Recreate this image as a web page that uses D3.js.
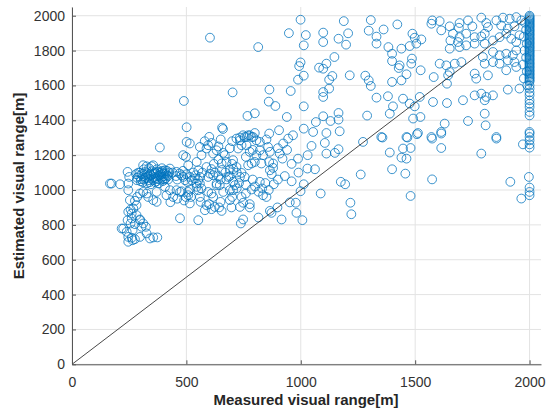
<!DOCTYPE html>
<html><head><meta charset="utf-8">
<script src="https://cdn.jsdelivr.net/npm/d3@7"></script>
<style>body{margin:0;background:#fff}svg{display:block}</style>
</head><body><svg id="c" width="551" height="412"></svg>
<script>
const xTicks=[0,500,1000,1500,2000];
const yTicks=[0,200,400,600,800,1000,1200,1400,1600,1800,2000];
const xLabel="Measured visual range[m]";
const yLabel="Estimated visual range[m]";
const refLine=[[0,0],[2000,2000]];
// [measured, estimated] pairs
const ptsUpperMid=[[489,1511],[501,1360],[603,1874],[814,1820],[999,1977],[948,1900],[1022,1889],[1013,1830],[1098,1903],[1098,1849],[1188,1969],[1207,1899],[1165,1868],[1198,1834],[1306,1975],[1297,1914],[1331,1880],[1331,1840],[1147,1763],[1112,1725],[1080,1702],[1098,1696],[999,1732],[993,1711],[1013,1656],[988,1633],[1138,1654],[1124,1633],[1214,1658],[1282,1656],[1297,1629],[1306,1597],[1124,1582],[1098,1562],[1098,1534],[1331,1530],[956,1568],[863,1576],[702,1560],[860,1507],[889,1482],[1013,1480],[799,1440],[767,1425],[939,1419],[1098,1423],[1165,1442],[1165,1404],[1130,1396],[1066,1390],[1290,1427],[656,1358],[660,1350],[905,1343],[1013,1352],[1054,1333],[1112,1327],[1170,1337],[862,1324],[600,1305],[734,1301],[755,1304],[770,1314],[785,1304],[799,1327]];
const ptsUpperRight=[[1362,1921],[1422,1950],[1383,1820],[1399,1782],[1399,1740],[1440,1811],[1476,1826],[1488,1897],[1498,1874],[1527,1864],[1505,1840],[1486,1754],[1483,1725],[1432,1715],[1428,1700],[1524,1687],[1462,1664],[1440,1629],[1399,1620],[1581,1648],[1575,1973],[1571,1954],[1607,1969],[1651,1939],[1614,1916],[1694,1958],[1691,1931],[1731,1973],[1750,1939],[1789,1989],[1811,1958],[1818,1935],[1804,1897],[1855,1973],[1884,1989],[1913,1983],[1942,1992],[1964,1973],[1876,1944],[1905,1926],[1934,1939],[1665,1897],[1694,1877],[1723,1897],[1654,1858],[1687,1849],[1723,1830],[1651,1811],[1694,1820],[1760,1840],[1804,1840],[1760,1877],[1789,1881],[1840,1858],[1869,1877],[1898,1897],[1920,1868],[1942,1849],[1956,1888],[1840,1792],[1869,1773],[1898,1782],[1927,1773],[1942,1801],[1796,1763],[1804,1725],[1840,1734],[1869,1725],[1905,1744],[1934,1734],[1898,1687],[1942,1706],[1818,1658],[1760,1668],[1767,1639],[1636,1715],[1673,1725],[1702,1734],[1607,1725],[1651,1677],[1644,1658],[1639,1610],[1381,1538],[1403,1480],[1447,1524],[1476,1496],[1498,1480],[1520,1534],[1389,1438],[1491,1410],[1523,1419],[1578,1505],[1639,1499],[1709,1515],[1760,1543],[1789,1553],[1811,1534],[1804,1515],[1840,1543],[1804,1438],[1731,1396],[1808,1371],[1905,1576],[1956,1582],[1629,1381],[1614,1333],[1571,1304],[1512,1327],[1462,1304],[1352,1304],[1855,1304],[1980,1960],[1985,1920],[1975,1880],[1988,1840],[1978,1800],[1985,1760],[1972,1720],[1988,1680],[1975,1640],[1990,1600],[1971,1262]];
const ptsCol2000=[[2000,2000],[2000,1993],[2000,1986],[2000,1979],[2000,1972],[2000,1965],[2000,1958],[2000,1951],[2000,1944],[2000,1937],[2000,1930],[2000,1922],[2000,1915],[2000,1908],[2000,1900],[2000,1893],[2000,1885],[2000,1877],[2000,1870],[2000,1862],[2000,1855],[2000,1847],[2000,1840],[2000,1832],[2000,1825],[2000,1817],[2000,1810],[2000,1802],[2000,1795],[2000,1787],[2000,1780],[2000,1772],[2000,1764],[2000,1757],[2000,1749],[2000,1741],[2000,1733],[2000,1725],[2000,1718],[2000,1710],[2000,1702],[2000,1694],[2000,1686],[2000,1678],[2000,1670],[2000,1662],[2000,1654],[2000,1646],[2000,1638],[2000,1630],[2000,1622],[2000,1600],[2000,1582],[2000,1560],[2000,1543],[2000,1515],[2000,1495],[2000,1476],[2000,1448],[2000,1428],[2000,1333],[2000,1304],[2000,1324],[2000,1285],[2000,1262],[2000,1243],[1997,1075],[2000,1014],[2000,989],[2000,970]];
const ptsMidRight=[[1855,1295],[1789,1209],[1916,1047],[1964,951],[1574,1061],[1480,966],[1457,1094],[1399,1119],[1389,1215],[1440,1186],[1462,1180],[1447,1238],[1480,1241],[1466,1301],[1508,1320],[1574,1295],[1614,1324],[1614,1241],[1357,1301],[1262,1089],[1272,1276]];
const ptsMid=[[1175,1047],[1194,1033],[1087,980],[1217,927],[1221,861],[1047,1253],[1105,1270],[1112,1209],[1149,1213],[1165,1234],[988,1180],[1029,1123],[1062,1119],[1013,1033],[999,993],[978,927],[952,929],[981,869],[1007,827],[898,900],[872,869],[865,880],[916,831],[815,842],[748,831],[738,808],[552,827],[472,838],[923,1267],[920,1180],[879,1127],[873,1091],[882,1033],[831,1009],[835,970],[821,1047],[785,1003],[777,919],[777,900],[741,960],[748,927],[734,903],[697,900],[690,942],[649,932],[643,900],[654,880],[624,903],[610,890],[600,919],[581,884],[588,913],[562,932],[559,960],[515,923],[508,970],[498,960],[479,993],[690,999],[704,999],[646,1028],[661,989],[610,980],[617,960],[595,989],[632,1028],[559,1037],[545,1018],[552,999],[566,1009],[508,989],[515,1003],[486,1075],[494,1056],[479,1085],[537,1066],[552,1056],[603,1094],[617,1085],[595,1075],[632,1037],[683,1075],[675,1061],[704,1047],[712,1028],[755,1075],[741,1098],[734,1075],[690,1117],[719,1132],[654,1152],[675,1161],[704,1171],[668,1200],[661,1213],[617,1209],[632,1228],[595,1257],[588,1238],[559,1247],[566,1200],[515,1267],[501,1276],[498,1190],[486,1200],[508,1142],[545,1161],[552,1113],[588,1132],[748,1314],[763,1304],[777,1314],[792,1304],[806,1285],[821,1276],[850,1290],[857,1247],[865,1219],[821,1228],[835,1200],[806,1200],[777,1219],[763,1257],[741,1257],[734,1285],[719,1295],[726,1238],[862,1161],[879,1152],[865,1113],[828,1152],[799,1161],[785,1152],[770,1142],[945,1295],[966,1314],[908,1209]];
const ptsMidExtra=[[440,1100],[455,1080],[470,1095],[485,1110],[500,1090],[515,1075],[530,1100],[460,1060],[505,1045],[540,1085],[560,1075],[570,1100],[610,1120],[625,1100],[640,1080],[655,1115],[670,1100],[690,1080],[705,1120],[720,1100],[650,1060],[700,1150],[620,1150],[640,1175],[730,1040],[760,1030],[790,1060],[800,1020],[815,990],[845,1040],[860,1000],[900,1060],[760,980],[700,960],[720,1010],[850,960],[430,930],[460,950],[490,940],[520,960],[580,1280],[610,1270],[640,1250],[690,1240],[700,1280],[650,1290],[760,1190],[790,1230],[900,1240],[940,1230],[960,1150],[990,1100],[930,1080],[1030,1200],[960,1050]];
const ptsLeft=[[173,1037],[166,1037],[210,1033],[246,1037],[250,1075],[243,1104],[246,999],[253,942],[256,888],[246,875],[243,827],[261,837],[256,808],[265,770],[239,760],[224,779],[217,779],[246,703],[261,726],[275,718],[265,712],[246,731],[297,731],[326,751],[341,722],[355,728],[373,728],[304,789],[323,789],[297,827],[282,856],[297,831],[311,808],[275,804],[261,865],[268,894],[282,913],[275,938],[285,960],[297,980],[311,989],[326,980],[333,960],[355,942],[370,989],[413,970],[370,932],[384,1244],[297,1100],[310,1080],[319,1103],[328,1068],[341,1092],[350,1108],[358,1073],[367,1096],[376,1062],[384,1085],[393,1102],[402,1079],[397,1051],[380,1039],[363,1045],[345,1033],[328,1039],[310,1045],[302,1062],[293,1079],[284,1056],[280,1091],[314,1119],[337,1125],[371,1119],[393,1125],[406,1113],[410,1068],[354,1056],[337,1056],[376,1079],[358,1091],[326,1136],[428,1123],[457,1104],[523,1056],[545,1037],[311,1142],[355,1142],[348,1136],[457,999],[472,989],[428,999],[406,1018],[442,960],[390,1070],[400,1095],[415,1085],[420,1060],[385,1100],[405,1060],[395,1110],[365,1065],[345,1085],[330,1095],[290,1100],[305,1090],[320,1070],[335,1080],[350,1065],[360,1100],[375,1105],[390,1090],[410,1095],[420,1080],[300,1050],[315,1060],[340,1045],[370,1050],[395,1060],[285,1070],[415,1110],[425,1100]];

const points=[...ptsUpperMid,...ptsUpperRight,...ptsCol2000,...ptsMidRight,...ptsMid,...ptsMidExtra,...ptsLeft];

const svg=d3.select("#c");
const font="'Liberation Sans', Arial, Helvetica, sans-serif";
const x=d3.scaleLinear().domain([0,2050]).range([72,541]);
const y=d3.scaleLinear().domain([0,2050]).range([364.3,7]);

// grid
const g=svg.append("g");
g.selectAll(".gx").data(xTicks).join("line").attr("x1",d=>x(d)).attr("x2",d=>x(d)).attr("y1",y(0)).attr("y2",y(2050)).attr("stroke","#e3e3e3").attr("stroke-width",1);
g.selectAll(".gy").data(yTicks).join("line").attr("y1",d=>y(d)).attr("y2",d=>y(d)).attr("x1",x(0)).attr("x2",x(2050)).attr("stroke","#e3e3e3").attr("stroke-width",1);

// points
svg.append("g").selectAll("circle").data(points).join("circle")
  .attr("cx",d=>x(d[0])).attr("cy",d=>y(d[1])).attr("r",4.4)
  .attr("fill","none").attr("stroke","#0072BD").attr("stroke-width",0.9).attr("stroke-opacity",0.85);

// reference line
svg.append("path").datum(refLine).attr("d",d3.line().x(d=>x(d[0])).y(d=>y(d[1])))
  .attr("stroke","#333").attr("stroke-width",0.9).attr("fill","none");

// axes
const fmt=d3.format("d");
const xa=svg.append("g").attr("transform",`translate(0,${y(0)})`)
  .call(d3.axisBottom(x).tickValues(xTicks).tickFormat(fmt).tickSize(-4).tickSizeOuter(0).tickPadding(13));
const ya=svg.append("g").attr("transform",`translate(${x(0)},0)`)
  .call(d3.axisLeft(y).tickValues(yTicks).tickFormat(fmt).tickSize(-4).tickSizeOuter(0).tickPadding(7));
[xa,ya].forEach(a=>{
  a.select(".domain").attr("stroke","#555").attr("stroke-width",1);
  a.selectAll(".tick line").attr("stroke","#555");
  a.selectAll("text").attr("fill","#333").style("font-family",font).style("font-size","14px");
});

svg.append("text").attr("x",306).attr("y",405).attr("text-anchor","middle")
  .style("font-family",font).style("font-size","15px").style("font-weight","bold").attr("fill","#262626").text(xLabel);
svg.append("text").attr("transform","translate(24,186) rotate(-90)").attr("text-anchor","middle")
  .style("font-family",font).style("font-size","15px").style("font-weight","bold").attr("fill","#262626").text(yLabel);
</script></body></html>
